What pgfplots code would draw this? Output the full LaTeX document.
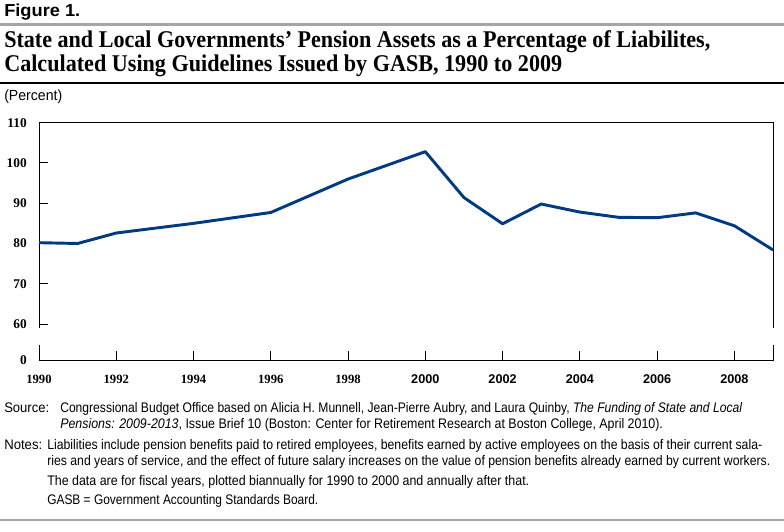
\documentclass[border=0pt]{standalone}
\usepackage{fontspec}
\setmainfont{Liberation Serif}
\newfontfamily\sans{Liberation Sans}
\usepackage{graphicx}
\usepackage{pgfplots}
\pgfplotsset{compat=1.18}

\definecolor{lineblue}{RGB}{0,58,128}
\definecolor{rulegray}{RGB}{165,165,165}

% text line of exact pixel width (horizontal squeeze only)
\newcommand{\fitline}[2]{\resizebox{#1}{\height}{#2}}
\newcommand{\notefont}{\sans\fontsize{10.4}{10.4}\selectfont}

\begin{document}
\begin{tikzpicture}

\begin{axis}[
  at={(29.25pt,-270pt)}, anchor=south west,
  scale only axis, width=550.5pt, height=178pt,
  xmin=1990, xmax=2009, ymin=51.07, ymax=110,
  axis line style={line width=0.75pt},
  xtick={1990,1992,...,2008},
  xticklabels={{\bfseries 1990},{\bfseries 1992},{\bfseries 1994},{\bfseries 1996},{\bfseries 1998},
               {\sans\bfseries 2000},{\sans\bfseries 2002},{\sans\bfseries 2004},{\sans\bfseries 2006},{\sans\bfseries 2008}},
  ytick={51.07,60,70,80,90,100,110},
  yticklabels={0,60,70,80,90,100,110},
  xtick pos=bottom, ytick pos=left, tick align=inside,
  major tick length=7pt,
  tick style={line width=0.75pt, black},
  yticklabel style={font=\bfseries\fontsize{10}{10}\selectfont, anchor=east, inner sep=0pt, xshift=-9pt},
  xticklabel style={font=\fontsize{9.5}{9.5}\selectfont, anchor=north, inner sep=0pt, yshift=-11pt},
  clip=false,
]
\addplot[color=lineblue, line width=2.2pt, line join=round] coordinates {
  (1990,80.2) (1991,80.0) (1992,82.6) (1994,85.0) (1996,87.7) (1998,96.0)
  (2000,102.8) (2001,91.4) (2002,84.9) (2003,89.8) (2004,87.8) (2005,86.5)
  (2006,86.4) (2007,87.6) (2008,84.4) (2009,78.4)
};
\end{axis}

\begin{scope}[x=0.75pt, y=-0.75pt]
\path[use as bounding box] (0,0) rectangle (784,531);
% axis break
\fill[white] (35,328) rectangle (43,345);
\fill[white] (769,328) rectangle (777,345);
% rules
\fill[rulegray] (0,23.5) rectangle (784,26);
\fill[black] (0,82.5) rectangle (784,84);
\fill[rulegray] (0,518.5) rectangle (784,521);
% heading
\node[anchor=base west, inner sep=0pt] at (4,17)
  {\fitline{57pt}{\sans\bfseries\fontsize{13}{13}\selectfont Figure 1.}};
\node[anchor=base west, inner sep=0pt] at (4,48)
  {\fitline{529.5pt}{\bfseries\fontsize{18}{18}\selectfont State and Local Governments’ Pension Assets as a Percentage of Liabilites,}};
\node[anchor=base west, inner sep=0pt] at (4,72)
  {\fitline{418.5pt}{\bfseries\fontsize{18}{18}\selectfont Calculated Using Guidelines Issued by GASB, 1990 to 2009}};
\node[anchor=base west, inner sep=0pt] at (4,101)
  {\fitline{43.5pt}{\sans\fontsize{11}{11}\selectfont (Percent)}};
% notes
\node[anchor=base west, inner sep=0pt] at (4,412)
  {\fitline{33.75pt}{\notefont Source:}};
\node[anchor=base west, inner sep=0pt] at (60,412)
  {\fitline{511.5pt}{\notefont Congressional Budget Office based on Alicia H. Munnell, Jean-Pierre Aubry, and Laura Quinby, \textit{The Funding of State and Local}}};
\node[anchor=base west, inner sep=0pt] at (60,428)
  {\fitline{452pt}{\notefont \textit{Pensions: 2009-2013}, Issue Brief 10 (Boston: Center for Retirement Research at Boston College, April 2010).}};
\node[anchor=base west, inner sep=0pt] at (4,449)
  {\fitline{28.5pt}{\notefont Notes:}};
\node[anchor=base west, inner sep=0pt] at (47,449)
  {\fitline{536.25pt}{\notefont Liabilities include pension benefits paid to retired employees, benefits earned by active employees on the basis of their current sala-}};
\node[anchor=base west, inner sep=0pt] at (47,465)
  {\fitline{542.25pt}{\notefont ries and years of service, and the effect of future salary increases on the value of pension benefits already earned by current workers.}};
\node[anchor=base west, inner sep=0pt] at (47,485)
  {\fitline{361.5pt}{\notefont The data are for fiscal years, plotted biannually for 1990 to 2000 and annually after that.}};
\node[anchor=base west, inner sep=0pt] at (47,504)
  {\fitline{203.25pt}{\notefont GASB = Government Accounting Standards Board.}};
\end{scope}
\end{tikzpicture}
\end{document}
